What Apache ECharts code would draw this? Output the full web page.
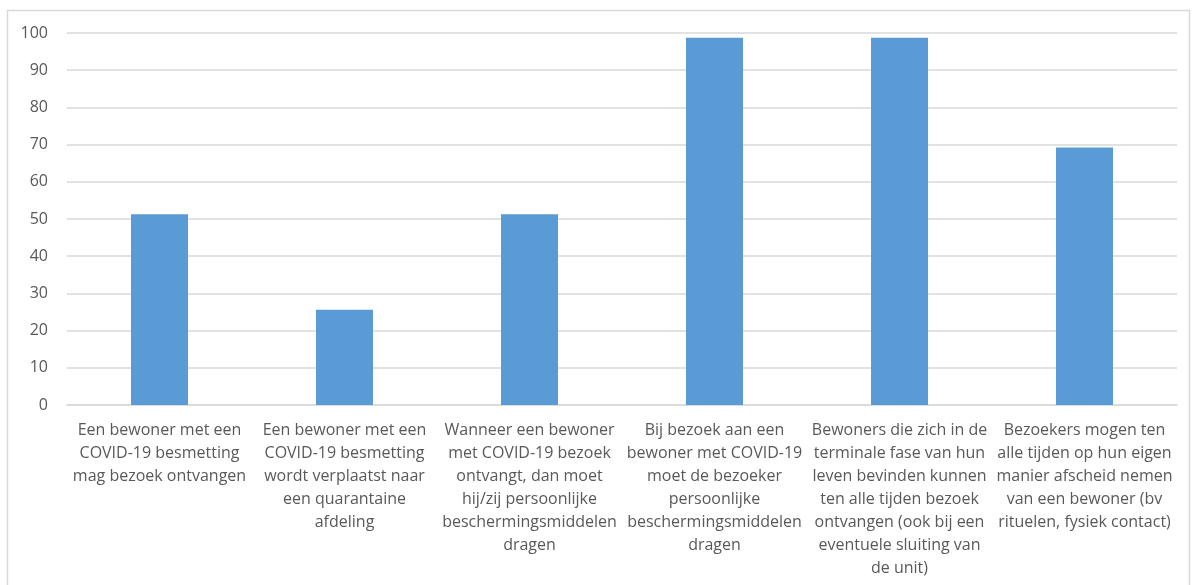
<!DOCTYPE html>
<html>
<head>
<meta charset="utf-8">
<script src="https://cdn.jsdelivr.net/npm/echarts@6/dist/echarts.min.js"></script>
<style>
    html, body { margin: 0; padding: 0; background: #fff; }
    #chart { width: 1195px; height: 585px; }
</style>
</head>
<body>
<div id="chart"></div>
<script>
// categorieën (regelafbreking zoals in het origineel)
var categories = [
    'Een bewoner met een\nCOVID-19 besmetting\nmag bezoek ontvangen',
    'Een bewoner met een\nCOVID-19 besmetting\nwordt verplaatst naar\neen quarantaine\nafdeling',
    'Wanneer een bewoner\nmet COVID-19 bezoek\nontvangt, dan moet\nhij/zij persoonlijke\nbeschermingsmiddelen\ndragen',
    'Bij bezoek aan een\nbewoner met COVID-19\nmoet de bezoeker\npersoonlijke\nbeschermingsmiddelen\ndragen',
    'Bewoners die zich in de\nterminale fase van hun\nleven bevinden kunnen\nten alle tijden bezoek\nontvangen (ook bij een\neventuele sluiting van\nde unit)',
    'Bezoekers mogen ten\nalle tijden op hun eigen\nmanier afscheid nemen\nvan een bewoner (bv\nrituelen, fysiek contact)'
];
// percentages
var values = [51.3, 25.6, 51.3, 98.7, 98.7, 69.2];
// y-as
var yMin = 0;
var yMax = 100;
var yStep = 10;

var chartDom = document.getElementById('chart');
var myChart = echarts.init(chartDom);

var option = {
    backgroundColor: '#ffffff',
    animation: false,
    textStyle: {
        fontFamily: '"Open Sans", "Liberation Sans", sans-serif'
    },
    graphic: [{
        type: 'rect',
        shape: { x: 7.5, y: 10.5, width: 1182, height: 600 },
        style: { fill: 'none', stroke: '#d9d9d9', lineWidth: 1.5 },
        silent: true
    }],
    grid: {
        left: 67,
        right: 18,
        top: 33,
        bottom: 180,
        containLabel: false,
        outerBoundsMode: 'none'
    },
    xAxis: {
        type: 'category',
        data: categories,
        axisLine: { show: true, lineStyle: { color: '#d9d9d9', width: 1.5 } },
        axisTick: { show: false },
        splitLine: { show: false },
        axisLabel: {
            interval: 0,
            color: '#595959',
            fontSize: 16,
            lineHeight: 23,
            margin: 14,
            align: 'center'
        }
    },
    yAxis: {
        type: 'value',
        min: yMin,
        max: yMax,
        interval: yStep,
        axisLine: { show: false },
        axisTick: { show: false },
        splitLine: { show: true, lineStyle: { color: '#d9d9d9', width: 1.5 } },
        axisLabel: {
            color: '#595959',
            fontSize: 16,
            margin: 19
        }
    },
    series: [{
        type: 'bar',
        data: values,
        barWidth: 57,
        itemStyle: { color: '#5b9bd5' }
    }]
};

myChart.setOption(option);
window.addEventListener('resize', function() {
    myChart.resize();
});
</script>
</body>
</html>
